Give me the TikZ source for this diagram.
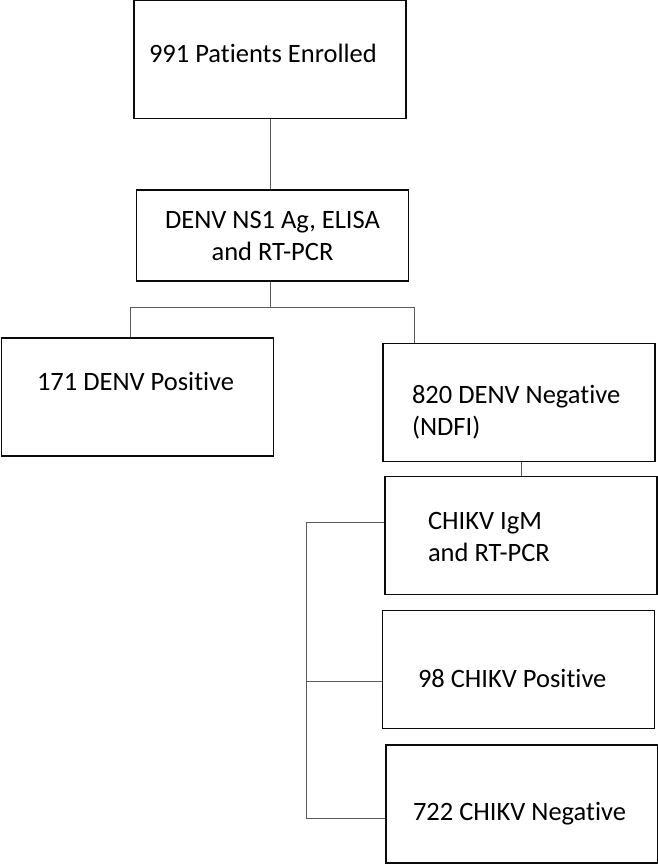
\documentclass[tikz,border=0pt]{standalone}
\usepackage{fontspec}
\setmainfont{Carlito}[Ligatures=NoCommon]
\usepackage{tikz}
\usetikzlibrary{positioning,calc}
\definecolor{cDark}{HTML}{0B0B0B}
\definecolor{cLink}{HTML}{5A5A5A}

\begin{document}
\begin{tikzpicture}[
  x=1pt, y=-1pt,
  font=\fontsize{26.5}{32}\selectfont,
  box/.style={draw=cDark, line width=1.8pt, minimum width=272pt, minimum height=118pt,
              inner sep=0pt, align=flush left},
  link/.style={draw=cLink, line width=0.9pt},
]
\useasboundingbox (0,0) rectangle (658,865);
\node[box, text width=242pt, text depth=13pt] (enrol) at (270,59.5) {991 Patients Enrolled};
\node[box, minimum height=91pt, align=center] (tests) at (272.5,235.5) {DENV NS1 Ag, ELISA\\and RT-PCR};
\node[box, text width=201pt, text depth=32pt] (dpos) at (137.5,397) {171 DENV Positive};
\node[box, text width=214pt, text height=37pt] (dneg) at (519,402.5) {820 DENV Negative\\(NDFI)};
\node[box, text width=186pt, text height=21pt] (chik) at (521,535.5) {CHIKV IgM\\and RT-PCR};
\node[box, text width=201pt, text height=37pt] (cpos) at (518.5,669.5) {98 CHIKV Positive};
\node[box, text width=218pt, text height=38pt] (cneg) at (522,804) {722 CHIKV Negative};

\draw[link] (enrol.south) -- (enrol.south |- tests.north);
\draw[link] (enrol.south |- tests.south) -- ++(0,26) coordinate (fork);
\draw[link] ([xshift=-7.5pt]dpos.north) |- (fork) -| ([xshift=32pt]dneg.north west);
\draw[link] (dneg.south -| chik.north) -- (chik.north);
\coordinate (bus) at (306,0);
\draw[link] ([yshift=13.5pt]chik.west) -- ([yshift=13.5pt]chik.west -| bus)
  -- ([yshift=-14pt]cneg.west -| bus) -- ([yshift=-14pt]cneg.west);
\draw[link] ([yshift=-11.5pt]cpos.west -| bus) -- ([yshift=-11.5pt]cpos.west);
\end{tikzpicture}
\end{document}
